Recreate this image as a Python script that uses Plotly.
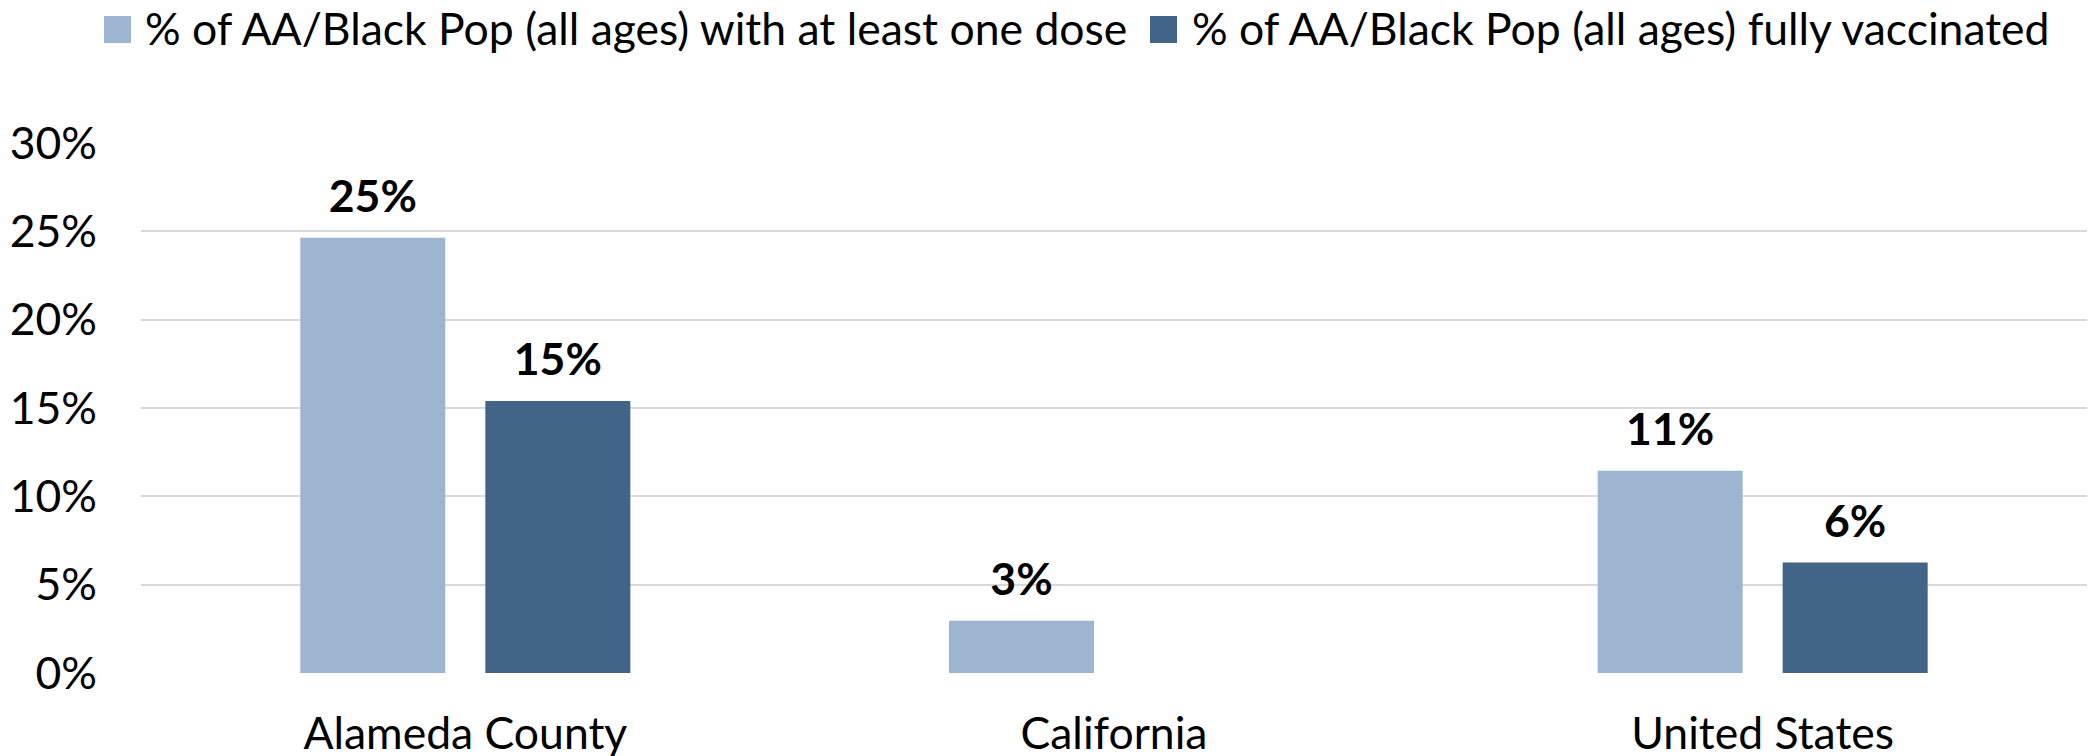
import plotly.graph_objects as go

# ---- data ----
categories = ["Alameda County", "California", "United States"]
series_names = [
    "% of AA/Black Pop (all ages) with at least one dose",
    "% of AA/Black Pop (all ages) fully vaccinated",
]
at_least_one_dose = [0.2464, 0.0296, 0.1145]
fully_vaccinated = [0.1539, None, 0.0626]
y_tick_values = [0, 0.05, 0.10, 0.15, 0.20, 0.25, 0.30]
y_tick_labels = ["0%", "5%", "10%", "15%", "20%", "25%", "30%"]

# ---- style ----
colors = ["#9DB5D1", "#426489"]
FONT = "Lato"
FS = 44.5
W, H = 2090, 756
ML, MR, MT, MB = 141, 3, 143, 83
PW = W - ML - MR
PH = H - MT - MB

def fmt(v):
    return "" if v is None else f"<b>{round(v * 100):.0f}%</b>"

fig = go.Figure()
for i, (name, vals) in enumerate(zip(series_names, [at_least_one_dose, fully_vaccinated])):
    fig.add_trace(go.Bar(
        x=categories, y=vals, name=name, offsetgroup=str(i),
        marker=dict(color=colors[i], line=dict(width=0)),
        showlegend=False, hoverinfo="skip",
    ))
for i, vals in enumerate([at_least_one_dose, fully_vaccinated]):
    fig.add_trace(go.Scatter(
        x=categories, y=vals, offsetgroup=str(i), mode="markers+text",
        text=[fmt(v) for v in vals], textposition="top center",
        textfont=dict(family=FONT, size=FS, color="#000000"),
        marker=dict(size=22, opacity=0), cliponaxis=False,
        showlegend=False, hoverinfo="skip",
    ))

# custom legend (large squares like the original); positions in page px
def px_x(p):
    return (p - ML) / PW

def px_y(p):
    return (H - MB - p) / PH

legend_items = [(104, 143), (1150, 1190)]
for (sq_x, tx), name, c in zip(legend_items, series_names, colors):
    fig.add_shape(type="rect", xref="paper", yref="paper",
                  x0=px_x(sq_x), x1=px_x(sq_x + 27), y0=px_y(43), y1=px_y(16),
                  fillcolor=c, line=dict(width=0))
    fig.add_annotation(xref="paper", yref="paper", x=px_x(tx), y=px_y(28),
                       xanchor="left", yanchor="middle", showarrow=False,
                       text=name, font=dict(family=FONT, size=FS, color="#000000"))

fig.update_layout(
    width=W, height=H,
    margin=dict(l=ML, r=MR, t=MT, b=MB, pad=0, autoexpand=False),
    paper_bgcolor="white", plot_bgcolor="white",
    barmode="group", bargap=0.4296, bargroupgap=0.2162,
    scattermode="group", scattergap=0.4296,
    font=dict(family=FONT, size=FS, color="#000000"),
    showlegend=False,
    xaxis=dict(showgrid=False, showline=False, zeroline=False, ticks="",
               automargin=False,
               tickfont=dict(family=FONT, size=FS, color="#000000"),
               ticklabelstandoff=30),
    yaxis=dict(range=[0, 0.30], tickvals=y_tick_values, ticktext=y_tick_labels,
               showgrid=True, gridcolor="#D9D9D9", gridwidth=2,
               zeroline=False, showline=False, ticks="", automargin=False,
               tickfont=dict(family=FONT, size=FS, color="#000000"),
               ticklabelstandoff=43),
)

fig.write_html("out.html",
               config={"displayModeBar": False},
               post_script="document.body.style.margin='0';document.body.style.overflow='hidden';")
